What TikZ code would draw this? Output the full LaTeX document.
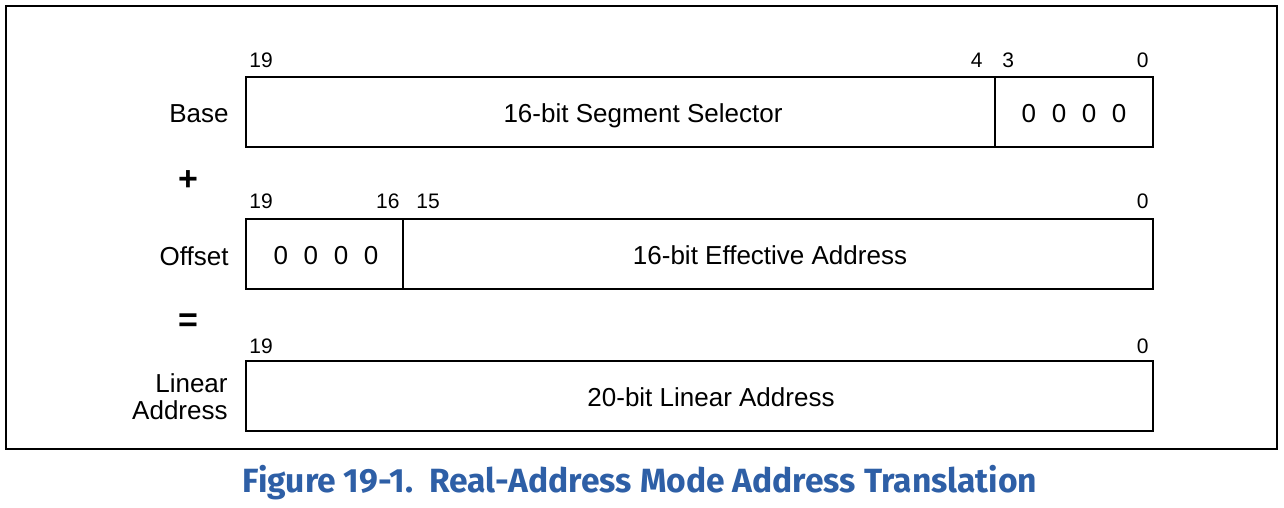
\documentclass[tikz,border=0pt]{standalone}
\usepackage{fontspec}
\setmainfont{Liberation Sans}
\newfontfamily\capfont{Fira Sans}
\usetikzlibrary{positioning}
\definecolor{capblue}{HTML}{2E5FA6}
\newcommand{\zeros}{0\hspace{0.6em}0\hspace{0.6em}0\hspace{0.6em}0}

\begin{document}
\begin{tikzpicture}[x=0.5pt,y=-0.5pt,
  field/.style={draw,line width=0.7pt,minimum height=35pt,inner sep=0pt,outer sep=0pt,anchor=north west},
  txt/.style={font=\fontsize{13}{15}\selectfont,inner sep=0pt,anchor=base},
  bitno/.style={font=\fontsize{10.5}{12}\selectfont,inner sep=0pt},
  rowlabel/.style={txt,align=right,anchor=base east},
  op/.style={font=\fontsize{17}{17}\selectfont\bfseries,inner sep=0pt}]
  \useasboundingbox (0,0) rectangle (1284,508);
  \draw[line width=0.75pt] (6,6) rectangle (1277,449);
  % base row
  \node[field,minimum width=374.5pt] (sel) at (246,77) {};
  \node[field,minimum width=79pt] (zb) at (995,77) {};
  \node[txt] (seltxt) at (643,122) {16-bit Segment Selector};
  \node[txt] (zbtxt) at (1074,122) {\zeros};
  \node[rowlabel] (base) at (229,122) {Base};
  \node[bitno,anchor=base west] (b19) at (249,68) {19};
  \node[bitno,anchor=base east] (b4) at (983,68) {4};
  \node[bitno,anchor=base west] (b3) at (1002,68) {3};
  \node[bitno,anchor=base east] (b0) at (1149,68) {0};
  \node[op] (plus) at (188,181) {+};
  % offset row
  \node[field,minimum width=78.5pt] (zo) at (246,219) {};
  \node[field,minimum width=375pt] (eff) at (403,219) {};
  \node[txt] (zotxt) at (326,264) {\zeros};
  \node[txt] (efftxt) at (770,264) {16-bit Effective Address};
  \node[rowlabel] (offset) at (229,265) {Offset};
  \node[bitno,anchor=base west] (o19) at (249,208) {19};
  \node[bitno,anchor=base east] (o16) at (400,208) {16};
  \node[bitno,anchor=base west] (o15) at (416,208) {15};
  \node[bitno,anchor=base east] (o0) at (1149,208) {0};
  \node[op] (equals) at (188,323) {=};
  % linear row
  \node[field,minimum width=453.5pt] (lin) at (246,361) {};
  \node[txt] (lintxt) at (711,406) {20-bit Linear Address};
  \node[rowlabel] (linear) at (228,392) {Linear};
  \node[rowlabel] (address) at (228,419) {Address};
  \node[bitno,anchor=base west] (l19) at (249,353) {19};
  \node[bitno,anchor=base east] (l0) at (1149,353) {0};
  % caption
  \node[inner sep=0pt,anchor=base,text=capblue,font=\capfont\bfseries\fontsize{16.8}{18}\selectfont] (caption) at (640,492)
    {Figure 19-1.\ \ Real-Address Mode Address Translation};
\end{tikzpicture}
\end{document}
